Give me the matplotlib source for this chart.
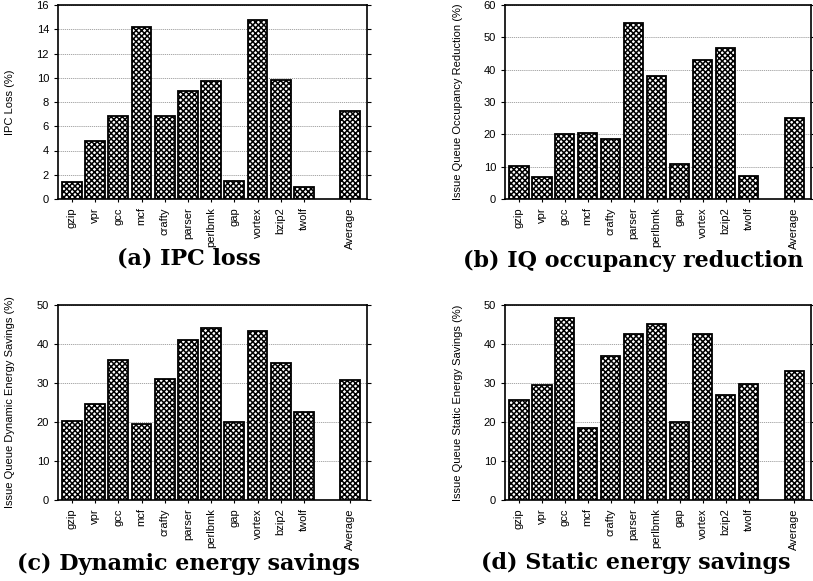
import matplotlib
matplotlib.use("Agg")
import matplotlib.pyplot as plt

# benchmark names, Average sits after an empty slot
benchmarks = ["gzip", "vpr", "gcc", "mcf", "crafty", "parser", "perlbmk",
              "gap", "vortex", "bzip2", "twolf"]
avg_label = "Average"

ipc_loss = [1.4, 4.78, 6.84, 14.18, 6.87, 8.93, 9.73, 1.46, 14.78, 9.84, 0.99]
ipc_loss_avg = 7.25

iq_occupancy = [10.3, 6.8, 20.2, 20.4, 18.6, 54.5, 38.0, 10.8, 43.1, 46.7, 7.1]
iq_occupancy_avg = 25.05

dyn_energy = [20.2, 24.6, 35.9, 19.5, 30.9, 41.0, 44.1, 19.95, 43.3, 35.2, 22.5]
dyn_energy_avg = 30.7

static_energy = [25.7, 29.45, 46.7, 18.4, 37.0, 42.6, 45.1, 19.9, 42.5, 26.8, 29.8]
static_energy_avg = 33.1

plt.rcParams['font.family'] = ['Liberation Sans', 'DejaVu Sans']
plt.rcParams['hatch.linewidth'] = 1.1

W, H = 813, 581
fig = plt.figure(figsize=(W / 100, H / 100), dpi=100)


def px_axes(left, top, right, bottom):
    return fig.add_axes([left / W, 1 - bottom / H, (right - left) / W, (bottom - top) / H])


def draw_panel(ax, values, avg, ymax, ystep, ylabel):
    xs = list(range(len(values))) + [len(values) + 1]
    heights = list(values) + [avg]
    labels = benchmarks + [avg_label]
    ax.bar(xs, heights, width=0.85, color="white", edgecolor="black",
           linewidth=1.3, hatch="xxxxxx", zorder=3)
    ax.set_xlim(-0.6, xs[-1] + 0.72)
    ax.set_ylim(0, ymax)
    ax.set_yticks(range(0, ymax + 1, ystep))
    ax.set_xticks(xs)
    ax.set_xticklabels(labels, rotation=90, fontsize=8)
    ax.tick_params(axis="y", labelsize=8, length=3, width=0.8, right=True)
    ax.tick_params(axis="x", length=2.5, width=0.8)
    ax.yaxis.grid(True, linestyle=(0, (1.5, 1)), color="#999999", linewidth=0.6, zorder=0)
    ax.set_axisbelow(True)
    for s in ax.spines.values():
        s.set_linewidth(1.2)
    ax.set_ylabel(ylabel, fontsize=8)
    ax.yaxis.set_label_coords(-0.138, 0.5)


ax_a = px_axes(58, 5, 367, 199)
draw_panel(ax_a, ipc_loss, ipc_loss_avg, 16, 2, "IPC Loss (%)")
ax_b = px_axes(505, 5, 811, 199)
draw_panel(ax_b, iq_occupancy, iq_occupancy_avg, 60, 10, "Issue Queue Occupancy Reduction (%)")
ax_c = px_axes(58, 305, 367, 500)
draw_panel(ax_c, dyn_energy, dyn_energy_avg, 50, 10, "Issue Queue Dynamic Energy Savings (%)")
ax_d = px_axes(505, 305, 811, 500)
draw_panel(ax_d, static_energy, static_energy_avg, 50, 10, "Issue Queue Static Energy Savings (%)")

cap_font = dict(family=["DejaVu Serif"], fontweight="bold", fontsize=16, ha="center", va="center")
fig.text(189 / W, 1 - 259 / H, "(a) IPC loss", **cap_font)
fig.text(633 / W, 1 - 261 / H, "(b) IQ occupancy reduction", **cap_font)
fig.text(188 / W, 1 - 564 / H, "(c) Dynamic energy savings", **cap_font)
fig.text(636 / W, 1 - 563 / H, "(d) Static energy savings", **cap_font)

fig.savefig("out.png", dpi=100)
